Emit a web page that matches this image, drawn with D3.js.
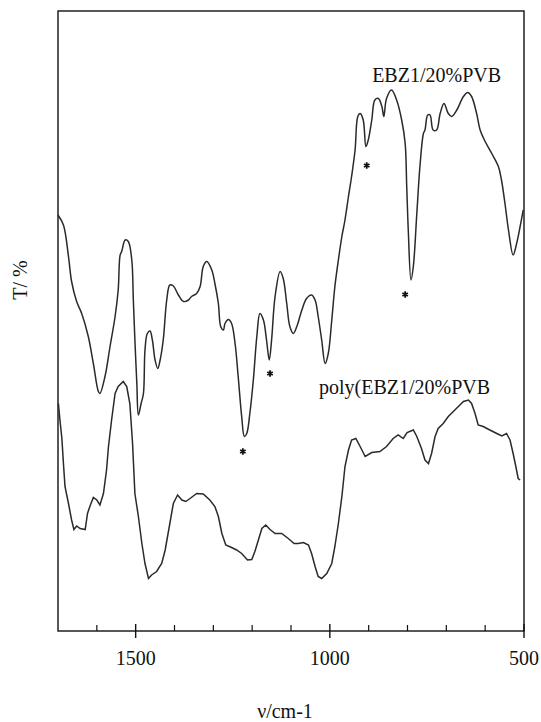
<!DOCTYPE html>
<html>
<head>
<meta charset="utf-8">
<script src="https://cdn.jsdelivr.net/npm/d3@7"></script>
<style>
  body { margin: 0; background: #fff; }
  svg { display: block; font-family: "Liberation Serif", "Times New Roman", serif; }
</style>
</head>
<body>
<div id="chart"></div>
<script>
// EBZ1/20%PVB spectrum, [wavenumber, T]
const ebzPoints = [
  [1700,83.0],[1686,81.0],[1673,74.7],[1665,69.7],[1652,65.7],[1639,63.3],[1622,58.7],[1609,53.3],
  [1596,47.7],[1592,47.3],[1579,50.7],[1566,56.7],[1553,62.7],[1545,68.0],[1540,75.0],[1536,75.7],
  [1527,78.0],[1519,77.7],[1510,74.0],[1506,66.0],[1502,58.0],[1497,49.3],[1493,43.0],[1486,45.3],
  [1480,47.3],[1476,56.0],[1470,59.3],[1463,59.8],[1457,58.0],[1450,54.0],[1443,52.3],[1437,54.0],
  [1429,58.0],[1420,66.0],[1412,69.0],[1403,68.8],[1390,67.0],[1377,65.7],[1364,66.0],[1356,66.7],
  [1343,67.3],[1334,68.7],[1326,72.7],[1317,73.7],[1304,72.0],[1296,69.3],[1287,65.3],[1281,60.7],
  [1274,60.0],[1270,61.3],[1261,62.1],[1253,61.3],[1244,57.3],[1236,50.7],[1227,42.7],[1220,38.7],
  [1214,39.3],[1206,43.3],[1197,50.0],[1188,58.7],[1180,63.3],[1171,62.0],[1163,58.0],[1156,54.0],
  [1150,58.0],[1141,66.7],[1128,71.7],[1120,70.3],[1111,65.3],[1103,60.7],[1094,59.3],[1085,60.7],
  [1072,64.0],[1060,66.3],[1047,67.0],[1038,66.0],[1030,62.7],[1021,58.0],[1012,53.3],[1004,55.3],
  [995,62.0],[987,68.7],[978,74.0],[969,78.7],[961,82.0],[952,86.7],[944,90.7],[935,96.0],
  [928,102.7],[922,103.3],[914,102.0],[907,96.7],[901,98.0],[892,102.0],[884,106.0],[875,106.3],
  [866,104.7],[861,102.7],[854,106.3],[841,108.0],[828,106.0],[815,102.0],[806,97.3],[802,88.7],
  [798,80.0],[791,70.0],[785,72.7],[776,83.3],[768,92.7],[759,99.3],[755,100.0],[748,103.0],
  [742,103.0],[734,100.0],[725,100.0],[716,103.3],[706,105.3],[695,103.3],[686,102.7],[673,104.0],
  [656,106.7],[645,107.5],[635,106.7],[622,103.3],[613,100.0],[600,97.7],[583,95.3],[566,92.7],
  [558,90.0],[549,85.3],[540,80.0],[528,75.0],[519,77.3],[510,80.7],[502,84.0]
];

// poly(EBZ1/20%PVB) spectrum, [wavenumber, T]
const polyPoints = [
  [1699,45.3],[1695,42.0],[1690,38.3],[1686,33.3],[1682,28.7],[1673,25.3],[1665,22.0],[1659,20.1],
  [1652,20.8],[1643,20.3],[1630,20.1],[1624,23.3],[1618,24.7],[1609,26.5],[1600,26.0],[1592,25.0],
  [1583,27.3],[1575,32.0],[1570,36.7],[1562,42.0],[1553,47.3],[1545,48.7],[1532,49.7],[1523,48.7],
  [1515,45.3],[1508,37.3],[1502,27.3],[1493,22.7],[1484,17.3],[1476,13.3],[1467,10.3],[1459,11.0],
  [1446,11.7],[1433,13.3],[1424,16.0],[1412,21.3],[1403,25.3],[1392,27.0],[1381,26.0],[1371,25.7],
  [1360,26.3],[1343,27.3],[1326,27.2],[1309,26.0],[1296,24.7],[1287,22.7],[1278,19.3],[1268,17.0],
  [1253,16.5],[1240,16.0],[1227,15.3],[1212,14.0],[1201,14.1],[1193,15.7],[1184,18.0],[1175,20.3],
  [1165,21.0],[1154,20.1],[1141,19.3],[1124,19.3],[1107,18.3],[1092,17.3],[1081,17.3],[1068,17.5],
  [1055,17.0],[1047,15.3],[1038,12.7],[1030,10.7],[1021,10.3],[1008,11.3],[995,13.3],[987,16.7],
  [978,21.3],[969,26.7],[961,32.7],[952,36.0],[944,38.0],[933,38.3],[922,36.7],[909,34.7],
  [892,35.5],[871,35.7],[854,36.7],[837,38.3],[824,39.0],[811,38.3],[801,39.5],[785,40.0],
  [776,38.7],[764,36.3],[755,34.0],[746,33.3],[738,35.3],[729,38.7],[721,40.3],[708,41.3],
  [695,42.7],[682,43.7],[669,44.7],[656,45.7],[643,46.0],[635,45.3],[626,43.3],[618,41.0],
  [605,40.7],[588,40.0],[570,39.3],[557,38.8],[545,39.3],[536,38.0],[528,35.3],[521,32.7],
  [515,30.3],[510,30.0]
];

// asterisk marks under the assigned bands
const starMarks = [[1224,35.7],[1154,51.3],[905,92.9],[806,67.1]];

const majorTicks = [1500, 1000, 500];
const minorTicks = [1600, 1400, 1300, 1200, 1100, 900, 800, 700, 600];

const seriesLabels = [
  {text: "EBZ1/20%PVB", v: 891, t: 109.6},
  {text: "poly(EBZ1/20%PVB", v: 1028, t: 47.2}
];

const W = 541, H = 722;
const margin = {top: 11, right: 17, bottom: 91, left: 58};
const width = W - margin.left - margin.right;
const height = H - margin.top - margin.bottom;

const svg = d3.select("#chart")
  .append("svg")
  .attr("width", W)
  .attr("height", H);

const g = svg.append("g")
  .attr("transform", `translate(${margin.left},${margin.top})`);

const x = d3.scaleLinear().domain([1700, 500]).range([0, width]);
const y = d3.scaleLinear().domain([-0.2, 123.8]).range([height, 0]);

// frame
g.append("rect")
  .attr("width", width)
  .attr("height", height)
  .attr("fill", "none")
  .attr("stroke", "#111")
  .attr("stroke-width", 1.4);

// bottom axis, major ticks cross the line, minor ones point inward
const axis = g.append("g").attr("transform", `translate(0,${height})`);
axis.selectAll(".major")
  .data(majorTicks)
  .join("line")
  .attr("x1", d => x(d)).attr("x2", d => x(d))
  .attr("y1", -7).attr("y2", 7)
  .attr("stroke", "#111").attr("stroke-width", 1.4);
axis.selectAll(".minor")
  .data(minorTicks)
  .join("line")
  .attr("x1", d => x(d)).attr("x2", d => x(d))
  .attr("y1", -6).attr("y2", 0)
  .attr("stroke", "#111").attr("stroke-width", 1.2);
axis.selectAll("text")
  .data(majorTicks)
  .join("text")
  .attr("x", d => x(d))
  .attr("y", 34)
  .attr("text-anchor", "middle")
  .attr("font-size", 20)
  .attr("fill", "#111")
  .text(d => d);

const lineGen = d3.line()
  .x(d => x(d[0]))
  .y(d => y(d[1]));

g.append("path")
  .datum(ebzPoints)
  .attr("d", lineGen.curve(d3.curveCatmullRom.alpha(0.5)))
  .attr("fill", "none")
  .attr("stroke", "#2a2a2a")
  .attr("stroke-width", 1.5);

g.append("path")
  .datum(polyPoints)
  .attr("d", lineGen.curve(d3.curveLinear))
  .attr("fill", "none")
  .attr("stroke", "#2a2a2a")
  .attr("stroke-width", 1.5);

g.selectAll(".star")
  .data(starMarks)
  .join("path")
  .attr("transform", d => `translate(${x(d[0])},${y(d[1])})`)
  .attr("d", d3.symbol(d3.symbolAsterisk, 28))
  .attr("fill", "none")
  .attr("stroke", "#111")
  .attr("stroke-width", 1.8);

g.selectAll(".lab")
  .data(seriesLabels)
  .join("text")
  .attr("x", d => x(d.v))
  .attr("y", d => y(d.t))
  .attr("font-size", 20)
  .attr("fill", "#111")
  .text(d => d.text);

// axis titles
svg.append("text")
  .attr("x", margin.left + width / 2 - 6)
  .attr("y", 718)
  .attr("text-anchor", "middle")
  .attr("font-size", 20)
  .attr("fill", "#111")
  .text("ν/cm-1");

svg.append("text")
  .attr("transform", "translate(27,280) rotate(-90)")
  .attr("text-anchor", "middle")
  .attr("font-size", 20)
  .attr("fill", "#111")
  .text("T/ %");
</script>
</body>
</html>
